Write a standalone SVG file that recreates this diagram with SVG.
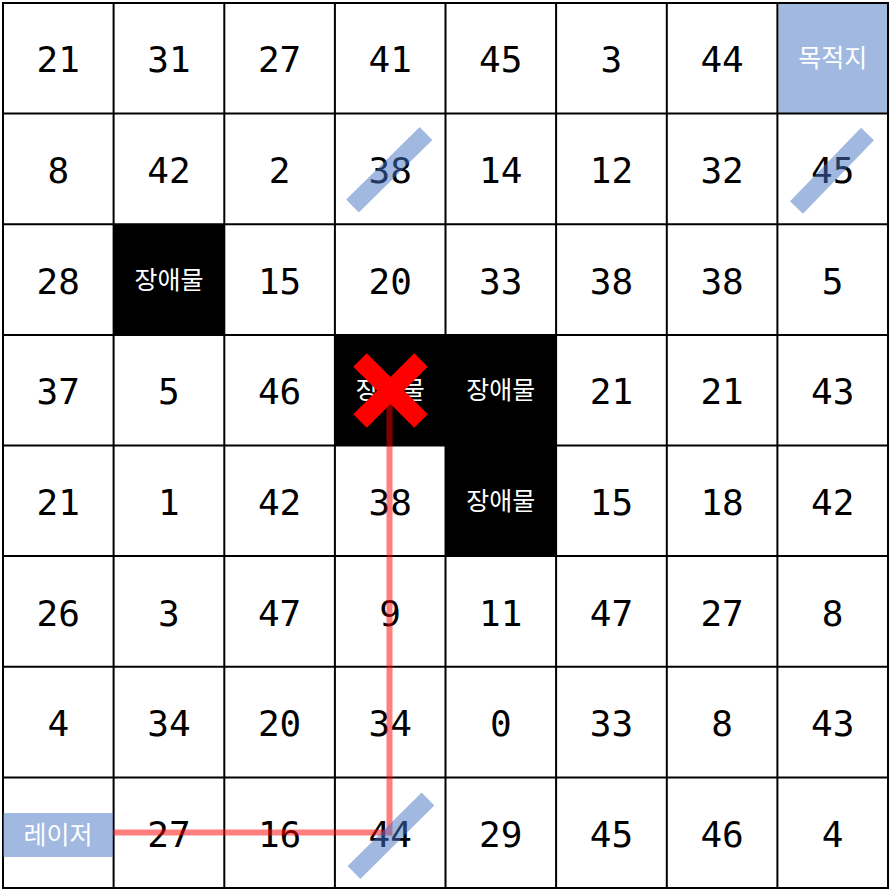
<svg xmlns="http://www.w3.org/2000/svg" width="891" height="891" viewBox="0 0 891 891">
<style>
.num{font-family:"DejaVu Sans Mono","Liberation Mono",monospace;font-size:36px;fill:#000;text-anchor:middle}
.ko{font-family:"Noto Sans CJK KR","Noto Sans",sans-serif;font-size:25px;fill:#fff;text-anchor:middle}
.grid{stroke:#000;stroke-width:2;fill:none}
.obs{fill:#000}
.bar{stroke:#4472c4;stroke-opacity:0.5;stroke-width:18;stroke-linecap:butt}
</style>
<rect x="0" y="0" width="891" height="891" fill="#fff"/>
<g id="obstacles">
<rect class="obs" x="113.6" y="224.3" width="110.6" height="110.6"/>
<rect class="obs" x="334.9" y="334.9" width="221.2" height="110.6"/>
<rect class="obs" x="445.5" y="445.5" width="110.6" height="110.6"/>
</g>
<g id="destination">
<rect x="778.4" y="3" width="109.6" height="110.6" fill="#4472c4" fill-opacity="0.5"/>
<text class="ko" x="832.7" y="67">목적지</text>
</g>
<g id="gridlines" class="grid">
<path d="M3,3H888V888H3Z M113.6,3V888 M224.3,3V888 M334.9,3V888 M445.5,3V888 M556.1,3V888 M666.8,3V888 M777.4,3V888 M3,113.6H888 M3,224.3H888 M3,334.9H888 M3,445.5H888 M3,556.1H888 M3,666.8H888 M3,777.4H888"/>
</g>
<g id="numbers">
<text class="num" x="58.3" y="72">21</text><text class="num" x="168.9" y="72">31</text><text class="num" x="279.6" y="72">27</text><text class="num" x="390.2" y="72">41</text><text class="num" x="500.8" y="72">45</text><text class="num" x="611.4" y="72">3</text><text class="num" x="722.1" y="72">44</text>
<text class="num" x="58.3" y="183">8</text><text class="num" x="168.9" y="183">42</text><text class="num" x="279.6" y="183">2</text><text class="num" x="390.2" y="183">38</text><text class="num" x="500.8" y="183">14</text><text class="num" x="611.4" y="183">12</text><text class="num" x="722.1" y="183">32</text><text class="num" x="832.7" y="183">45</text>
<text class="num" x="58.3" y="294">28</text><text class="num" x="279.6" y="294">15</text><text class="num" x="390.2" y="294">20</text><text class="num" x="500.8" y="294">33</text><text class="num" x="611.4" y="294">38</text><text class="num" x="722.1" y="294">38</text><text class="num" x="832.7" y="294">5</text>
<text class="num" x="58.3" y="404">37</text><text class="num" x="168.9" y="404">5</text><text class="num" x="279.6" y="404">46</text><text class="num" x="611.4" y="404">21</text><text class="num" x="722.1" y="404">21</text><text class="num" x="832.7" y="404">43</text>
<text class="num" x="58.3" y="515">21</text><text class="num" x="168.9" y="515">1</text><text class="num" x="279.6" y="515">42</text><text class="num" x="390.2" y="515">38</text><text class="num" x="611.4" y="515">15</text><text class="num" x="722.1" y="515">18</text><text class="num" x="832.7" y="515">42</text>
<text class="num" x="58.3" y="626">26</text><text class="num" x="168.9" y="626">3</text><text class="num" x="279.6" y="626">47</text><text class="num" x="390.2" y="626">9</text><text class="num" x="500.8" y="626">11</text><text class="num" x="611.4" y="626">47</text><text class="num" x="722.1" y="626">27</text><text class="num" x="832.7" y="626">8</text>
<text class="num" x="58.3" y="736">4</text><text class="num" x="168.9" y="736">34</text><text class="num" x="279.6" y="736">20</text><text class="num" x="390.2" y="736">34</text><text class="num" x="500.8" y="736">0</text><text class="num" x="611.4" y="736">33</text><text class="num" x="722.1" y="736">8</text><text class="num" x="832.7" y="736">43</text>
<text class="num" x="168.9" y="847">27</text><text class="num" x="279.6" y="847">16</text><text class="num" x="390.2" y="847">44</text><text class="num" x="500.8" y="847">29</text><text class="num" x="611.4" y="847">45</text><text class="num" x="722.1" y="847">46</text><text class="num" x="832.7" y="847">4</text>
</g>
<g id="obstacle-labels">
<text class="ko" x="168.9" y="288.5">장애물</text>
<text class="ko" x="390.2" y="399">장애물</text>
<text class="ko" x="500.8" y="399">장애물</text>
<text class="ko" x="500.8" y="510">장애물</text>
</g>
<g id="laser">
<rect x="3" y="813" width="110" height="44" fill="#4472c4" fill-opacity="0.5"/>
<text class="ko" x="58" y="843.5">레이저</text>
</g>
<g id="connectors">
<path d="M113,832.5H389.5V390" fill="none" stroke="#ff0000" stroke-opacity="0.5" stroke-width="6"/>
</g>
<g id="mirrors">
<line class="bar" x1="352.5" y1="206" x2="426" y2="133.5"/>
<line class="bar" x1="796.5" y1="207.5" x2="867.5" y2="134"/>
<line class="bar" x1="354" y1="872.5" x2="428" y2="799"/>
</g>
<g id="blocked">
<path d="M360,360L421,421M421,360L360,421" stroke="#ff0000" stroke-width="19" fill="none"/>
</g>
</svg>
